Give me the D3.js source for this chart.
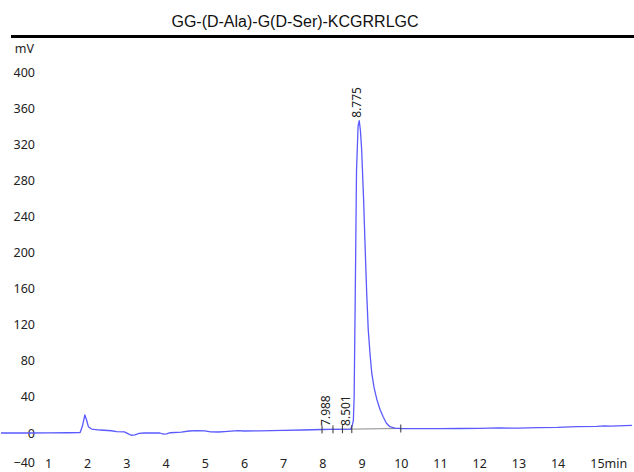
<!DOCTYPE html>
<html lang="en">
<head>
    <meta charset="UTF-8">
    <title>GG-(D-Ala)-G(D-Ser)-KCGRRLGC</title>
    <script src="https://d3js.org/d3.v7.min.js"></script>
    <style>
        body {
            margin: 0;
            background: #ffffff;
        }
        svg {
            display: block;
        }
    </style>
</head>
<body>
    <main></main>

<script>

    // chromatogram trace: time (min) and signal (mV)
    var traceTime = [-0.2, 0.5, 1.0, 1.5, 1.82, 1.88, 1.94, 1.98, 2.03, 2.11, 2.33, 2.62, 2.75, 2.95,
        3.05, 3.12, 3.22, 3.32, 3.45, 3.85, 3.95, 4.02, 4.12, 4.4, 4.6, 4.8, 5.0, 5.15, 5.35, 5.5,
        5.85, 6.0, 6.4, 7.0, 7.5, 7.99, 8.2, 8.5, 8.72, 8.76, 8.79, 8.81, 8.84, 8.87, 8.91, 8.94,
        8.97, 9.0, 9.05, 9.09, 9.13, 9.17, 9.22, 9.26, 9.32, 9.39, 9.47, 9.55, 9.63, 9.72, 9.85,
        10.0, 10.5, 11.0, 11.5, 12.0, 12.5, 12.8, 13.0, 13.5, 14.0, 14.5, 15.0, 15.2, 15.35, 15.9];
    var traceMv = [0, 0, 0.2, 0.3, 0.5, 8, 20, 15, 7, 4.4, 3.3, 2.5, 1.5, 1.2,
        -1, -2.5, -2, -0.5, 0, 0, -1.3, -1, 0.3, 1, 2.2, 2.6, 2.3, 1.2, 1.1, 1.6,
        2.6, 2.2, 2.3, 2.8, 3.3, 3.9, 4.0, 4.1, 4.3, 8, 14, 40, 160, 290, 340, 346,
        335, 315, 260, 206, 155, 114, 85, 66, 50, 37, 26, 18, 11, 7, 5.5,
        5, 4.8, 4.8, 5.0, 5.2, 5.6, 5.5, 5.3, 6, 6.2, 7, 7.4, 8, 7.6, 8.5];

    // peak labels (retention times) and the height the label sits on
    var peakTimes = [7.988, 8.501, 8.775];
    var peakHeights = [4.5, 4.5, 346];

    // integration marks and baseline
    var markTimes = [7.99, 8.27, 8.51, 8.75, 10.0];
    var baseTimes = [7.99, 10.0];
    var baseMv = [3.9, 5.0];

    var xTicks = [1, 2, 3, 4, 5, 6, 7, 8, 9, 10, 11, 12, 13, 14, 15];
    var yTicks = [-40, 0, 40, 80, 120, 160, 200, 240, 280, 320, 360, 400];

    var w = 634, h = 472;
    var labelFont = '"Noto Sans", "DejaVu Sans", sans-serif';

    var x = d3.scaleLinear().domain([0, 16]).range([8.8, 8.8 + 39.2 * 16]);
    var y = d3.scaleLinear().domain([0, 400]).range([433, 72]);

    var svg = d3.select('main')
        .append('svg')
        .attr('width', w)
        .attr('height', h)
        .style('background', '#ffffff');

    // title + heavy rule under it
    svg.append('text')
        .attr('x', 295)
        .attr('y', 27)
        .attr('text-anchor', 'middle')
        .style('font-family', '"Liberation Sans", Arial, sans-serif')
        .style('font-size', '16px')
        .style('fill', '#111')
        .text('GG-(D-Ala)-G(D-Ser)-KCGRRLGC');

    svg.append('line')
        .attr('x1', 11)
        .attr('x2', w)
        .attr('y1', 36.5)
        .attr('y2', 36.5)
        .style('stroke', '#000')
        .style('stroke-width', 3);

    svg.append('text')
        .attr('x', 34)
        .attr('y', 49)
        .attr('dy', '0.35em')
        .attr('text-anchor', 'end')
        .style('font-family', labelFont)
        .style('font-size', '12.5px')
        .style('fill', '#222')
        .text('mV');

    // y axis: labels only
    var yAxis = svg.append('g')
        .attr('transform', 'translate(35,0)')
        .call(d3.axisLeft(y).tickValues(yTicks).tickSize(0).tickPadding(0));
    yAxis.select('.domain').remove();
    // bottom label shares the row with the time labels
    yAxis.selectAll('.tick')
        .filter(function(d){ return d === -40; })
        .select('text')
        .attr('dy', '-0.2em');

    // x axis: labels only
    var xAxis = svg.append('g')
        .attr('transform', 'translate(0,456)')
        .call(d3.axisBottom(x).tickValues(xTicks).tickSize(0).tickPadding(3)
            .tickFormat(function(d){ return d === 15 ? '15min' : d; }));
    xAxis.select('.domain').remove();
    xAxis.selectAll('.tick')
        .filter(function(d){ return d === 15; })
        .select('text')
        .attr('text-anchor', 'start')
        .attr('dx', -7);

    svg.selectAll('.tick text')
        .style('font-family', labelFont)
        .style('font-size', '12.5px')
        .style('fill', '#222');

    // integration baseline
    svg.append('line')
        .attr('x1', x(baseTimes[0]))
        .attr('x2', x(baseTimes[1]))
        .attr('y1', y(baseMv[0]))
        .attr('y2', y(baseMv[1]))
        .style('stroke', '#8a8a8a')
        .style('stroke-width', 1);

    // trace
    var pts = traceTime.map(function(t, i){ return [t, traceMv[i]]; });
    svg.append('path')
        .datum(pts)
        .attr('d', d3.line()
            .x(function(d){ return x(d[0]); })
            .y(function(d){ return y(d[1]); }))
        .style('fill', 'none')
        .style('stroke', '#5a5aff')
        .style('stroke-width', 1.3)
        .style('stroke-linejoin', 'round');

    // peak start/end marks
    var baseY = d3.scaleLinear().domain(baseTimes).range(baseMv);
    svg.append('g')
        .selectAll('line')
        .data(markTimes)
        .enter()
        .append('line')
        .attr('x1', function(d){ return x(d); })
        .attr('x2', function(d){ return x(d); })
        .attr('y1', function(d){ return y(baseY(d)) - 4; })
        .attr('y2', function(d){ return y(baseY(d)) + 4; })
        .style('stroke', '#333')
        .style('stroke-width', 1);

    // retention time labels
    svg.append('g')
        .selectAll('text')
        .data(peakTimes)
        .enter()
        .append('text')
        .attr('transform', function(d, i){
            return 'translate(' + (x(d) + 4) + ',' + (y(peakHeights[i]) - 3) + ') rotate(-90)';
        })
        .attr('dy', '0.35em')
        .style('font-family', labelFont)
        .style('font-size', '12px')
        .style('fill', '#222')
        .text(function(d){ return d.toFixed(3); });

</script>
</body>
</html>
